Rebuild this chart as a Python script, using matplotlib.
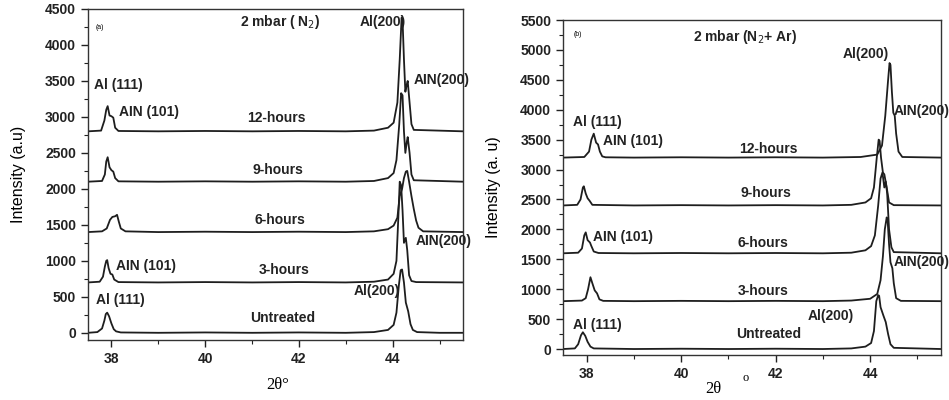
import matplotlib
matplotlib.use('Agg')
import matplotlib.pyplot as plt
from matplotlib.ticker import MultipleLocator

plt.rcParams['font.family'] = ['Liberation Sans', 'DejaVu Sans']

# ---- panel (a): 2 mbar N2 ----
a_untreated_x = [37.5, 37.7, 37.8, 37.85, 37.88, 37.91, 37.95, 38.0, 38.05, 38.1, 38.2, 39.0, 40.0, 41.0, 42.0, 43.0,
                 43.6, 43.9, 44.02, 44.08, 44.13, 44.17, 44.2, 44.24, 44.28, 44.33, 44.38, 44.43, 44.52, 45.0, 45.5]
a_untreated_y = [0, 10, 60, 170, 260, 280, 230, 130, 50, 20, 5, 0, 5, 0, 5, 0,
                 10, 40, 110, 280, 650, 870, 880, 700, 420, 300, 120, 40, 10, 0, 0]

a_3h_x = [37.5, 37.75, 37.82, 37.86, 37.89, 37.91, 37.94, 37.98, 38.02, 38.06, 38.15, 39.0, 40.0, 41.0, 42.0, 43.0,
          43.6, 43.9, 44.02, 44.08, 44.12, 44.15, 44.18, 44.21, 44.24, 44.28, 44.31, 44.35, 44.4, 44.5, 45.5]
a_3h_y = [700, 710, 780, 920, 1000, 1010, 900, 820, 810, 740, 705, 700, 705, 700, 705, 700,
          710, 740, 820, 1000, 1600, 2100, 2050, 1700, 1250, 1320, 1150, 800, 720, 705, 700]

a_6h_x = [37.5, 37.8, 37.9, 37.97, 38.02, 38.08, 38.12, 38.16, 38.2, 38.3, 39.0, 40.0, 41.0, 42.0, 43.0,
          43.6, 43.9, 44.02, 44.1, 44.15, 44.2, 44.24, 44.28, 44.31, 44.35, 44.4, 44.45, 44.5, 44.55, 44.65, 45.5]
a_6h_y = [1400, 1410, 1450, 1570, 1610, 1620, 1640, 1540, 1450, 1410, 1400, 1405, 1400, 1405, 1400,
          1410, 1440, 1490, 1600, 1900, 2000, 2150, 2240, 2250, 2100, 1900, 1720, 1560, 1460, 1410, 1400]

a_9h_x = [37.5, 37.8, 37.86, 37.89, 37.92, 37.96, 38.0, 38.04, 38.08, 38.15, 39.0, 40.0, 41.0, 42.0, 43.0,
          43.6, 43.9, 44.02, 44.08, 44.14, 44.18, 44.21, 44.24, 44.27, 44.3, 44.32, 44.36, 44.4, 44.45, 45.5]
a_9h_y = [2100, 2110, 2200, 2380, 2440, 2300, 2260, 2240, 2150, 2105, 2100, 2105, 2100, 2105, 2100,
          2110, 2150, 2220, 2400, 2900, 3330, 3300, 2800, 2500, 2650, 2720, 2500, 2200, 2120, 2100]

a_12h_x = [37.5, 37.78, 37.85, 37.89, 37.92, 37.96, 38.0, 38.04, 38.08, 38.15, 39.0, 40.0, 41.0, 42.0, 43.0,
           43.6, 43.9, 44.02, 44.1, 44.15, 44.19, 44.21, 44.24, 44.27, 44.3, 44.32, 44.36, 44.4, 44.45, 45.5]
a_12h_y = [2800, 2810, 2950, 3100, 3150, 3020, 3010, 2990, 2850, 2805, 2800, 2805, 2800, 2805, 2800,
           2810, 2850, 2920, 3200, 3800, 4380, 4350, 3800, 3350, 3450, 3500, 3200, 2900, 2820, 2800]

# ---- panel (b): 2 mbar N2 + Ar ----
b_untreated_x = [37.5, 37.75, 37.82, 37.88, 37.92, 37.97, 38.02, 38.08, 38.15, 39.0, 40.0, 41.0, 42.0, 43.0,
                 43.6, 43.9, 44.02, 44.08, 44.13, 44.17, 44.19, 44.22, 44.28, 44.33, 44.38, 44.43, 44.5, 45.5]
b_untreated_y = [0, 10, 80, 230, 280, 220, 120, 40, 10, 0, 5, 0, 5, 0,
                 10, 40, 100, 300, 800, 900, 890, 700, 560, 450, 250, 80, 20, 0]

b_3h_x = [37.5, 37.9, 37.98, 38.03, 38.08, 38.12, 38.17, 38.22, 38.27, 38.35, 39.0, 40.0, 41.0, 42.0, 43.0,
          43.6, 44.0, 44.15, 44.22, 44.27, 44.31, 44.35, 44.37, 44.4, 44.43, 44.47, 44.5, 44.55, 44.65, 45.5]
b_3h_y = [800, 810, 850, 1000, 1200, 1100, 980, 930, 830, 805, 800, 805, 800, 805, 800,
          810, 840, 920, 1150, 1550, 2000, 2200, 2150, 1750, 1450, 1350, 1100, 850, 805, 800]

b_6h_x = [37.5, 37.82, 37.9, 37.95, 37.98, 38.02, 38.07, 38.1, 38.15, 38.25, 39.0, 40.0, 41.0, 42.0, 43.0,
          43.6, 43.9, 44.02, 44.1, 44.17, 44.22, 44.26, 44.3, 44.33, 44.36, 44.4, 44.45, 44.5, 45.5]
b_6h_y = [1600, 1610, 1680, 1900, 1950, 1820, 1780, 1720, 1630, 1605, 1600, 1605, 1600, 1605, 1600,
          1610, 1650, 1720, 1900, 2400, 2850, 2950, 2700, 2800, 2600, 2000, 1700, 1620, 1600]

b_9h_x = [37.5, 37.8, 37.87, 37.92, 37.94, 37.98, 38.02, 38.06, 38.12, 39.0, 40.0, 41.0, 42.0, 43.0,
          43.6, 43.9, 44.02, 44.08, 44.14, 44.18, 44.2, 44.23, 44.27, 44.3, 44.35, 44.4, 44.5, 45.5]
b_9h_y = [2400, 2410, 2500, 2700, 2720, 2600, 2520, 2480, 2410, 2400, 2405, 2400, 2405, 2400,
          2410, 2450, 2520, 2700, 3200, 3500, 3480, 3200, 2950, 2920, 2700, 2450, 2405, 2400]

b_12h_x = [37.5, 37.95, 38.05, 38.1, 38.15, 38.2, 38.24, 38.28, 38.33, 38.4, 39.0, 40.0, 41.0, 42.0, 43.0,
           43.8, 44.15, 44.25, 44.32, 44.38, 44.41, 44.43, 44.46, 44.49, 44.52, 44.55, 44.6, 44.68, 45.5]
b_12h_y = [3200, 3210, 3300, 3500, 3600, 3450, 3420, 3300, 3220, 3205, 3200, 3205, 3200, 3205, 3200,
           3210, 3250, 3400, 3900, 4500, 4780, 4750, 4300, 3950, 3900, 3600, 3300, 3210, 3200]

a_yticks = [0, 500, 1000, 1500, 2000, 2500, 3000, 3500, 4000, 4500]
b_yticks = [0, 500, 1000, 1500, 2000, 2500, 3000, 3500, 4000, 4500, 5000, 5500]
xticks = [38, 40, 42, 44]

line_color = '#1e1e1e'
serif = ['Liberation Serif', 'DejaVu Serif']

fig = plt.figure(figsize=(9.49, 4.0), dpi=100)
ax1 = fig.add_axes([0.0927, 0.15, 0.3952, 0.8275])
ax2 = fig.add_axes([0.5933, 0.1125, 0.3983, 0.8375])


def style_axis(ax, yticks, ylim_top):
    ax.set_xlim(37.5, 45.5)
    ax.set_ylim(-100, ylim_top)
    ax.set_xticks(xticks)
    ax.set_yticks(yticks)
    ax.xaxis.set_minor_locator(MultipleLocator(1))
    ax.yaxis.set_minor_locator(MultipleLocator(250))
    ax.tick_params(which='major', direction='out', length=5, width=1.0, labelsize=10, colors='#222222')
    ax.tick_params(which='minor', direction='out', length=3, width=0.8, colors='#222222')
    for lab in ax.get_xticklabels() + ax.get_yticklabels():
        lab.set_fontweight('bold')
    for sp in ax.spines.values():
        sp.set_linewidth(1.0)
        sp.set_color('#333333')


tb = dict(fontsize=10, fontweight='bold', ha='center', va='center', color='#222222')
tb_left = dict(fontsize=10, fontweight='bold', ha='left', va='center', color='#222222', clip_on=False)

# panel (a)
for xs, ys in [(a_untreated_x, a_untreated_y), (a_3h_x, a_3h_y), (a_6h_x, a_6h_y),
               (a_9h_x, a_9h_y), (a_12h_x, a_12h_y)]:
    ax1.plot(xs, ys, color=line_color, lw=1.3)
style_axis(ax1, a_yticks, 4500)
ax1.set_ylabel('Intensity (a.u)', fontsize=11.5)
ax1.yaxis.set_label_coords(-0.166, 0.5)

ax1.text(37.76, 4236, '(a)', fontsize=5, ha='center', va='center')
ax1.text(41.6, 4320, '2 mbar ( N$_2$)', **tb)
ax1.text(43.78, 4320, 'Al(200)', **tb)
ax1.text(44.45, 3510, 'AIN(200)', **tb_left)
ax1.text(38.15, 3440, 'Al (111)', **tb)
ax1.text(38.8, 3070, 'AIN (101)', **tb)
ax1.text(41.52, 2990, '12-hours', **tb)
ax1.text(41.56, 2260, '9-hours', **tb)
ax1.text(41.6, 1570, '6-hours', **tb)
ax1.text(38.73, 930, 'AIN (101)', **tb)
ax1.text(41.68, 875, '3-hours', **tb)
ax1.text(44.48, 1280, 'AIN(200)', **tb_left)
ax1.text(43.65, 580, 'Al(200)', **tb)
ax1.text(38.2, 460, 'Al (111)', **tb)
ax1.text(41.65, 210, 'Untreated', **tb)

# panel (b)
for xs, ys in [(b_untreated_x, b_untreated_y), (b_3h_x, b_3h_y), (b_6h_x, b_6h_y),
               (b_9h_x, b_9h_y), (b_12h_x, b_12h_y)]:
    ax2.plot(xs, ys, color=line_color, lw=1.3)
style_axis(ax2, b_yticks, 5500)
ax2.set_ylabel('Intensity (a. u)', fontsize=11.5)
ax2.yaxis.set_label_coords(-0.164, 0.5)

ax2.text(37.82, 5250, '(b)', fontsize=5, ha='center', va='center')
ax2.text(41.36, 5220, '2 mbar (N$_2$+ Ar)', **tb)
ax2.text(43.9, 4930, 'Al(200)', **tb)
ax2.text(44.5, 3980, 'AIN(200)', **tb_left)
ax2.text(38.22, 3800, 'Al (111)', **tb)
ax2.text(38.98, 3480, 'AIN (101)', **tb)
ax2.text(41.85, 3350, '12-hours', **tb)
ax2.text(41.8, 2600, '9-hours', **tb)
ax2.text(38.77, 1870, 'AIN (101)', **tb)
ax2.text(41.74, 1770, '6-hours', **tb)
ax2.text(44.5, 1450, 'AIN(200)', **tb_left)
ax2.text(41.74, 970, '3-hours', **tb)
ax2.text(43.16, 550, 'Al(200)', **tb)
ax2.text(38.22, 400, 'Al (111)', **tb)
ax2.text(41.85, 250, 'Untreated', **tb)

# x axis labels (placed in figure pixels to match the reference)
fig.text(278 / 949, 1 - 385 / 400, '2θ°', fontsize=12, family=serif, ha='center', va='center')
fig.text(713 / 949, 1 - 389 / 400, '2θ', fontsize=12, family=serif, ha='center', va='center')
fig.text(746 / 949, 1 - 378 / 400, 'o', fontsize=9, family=serif, ha='center', va='center')

fig.savefig('out.png', dpi=100)
plt.close(fig)
